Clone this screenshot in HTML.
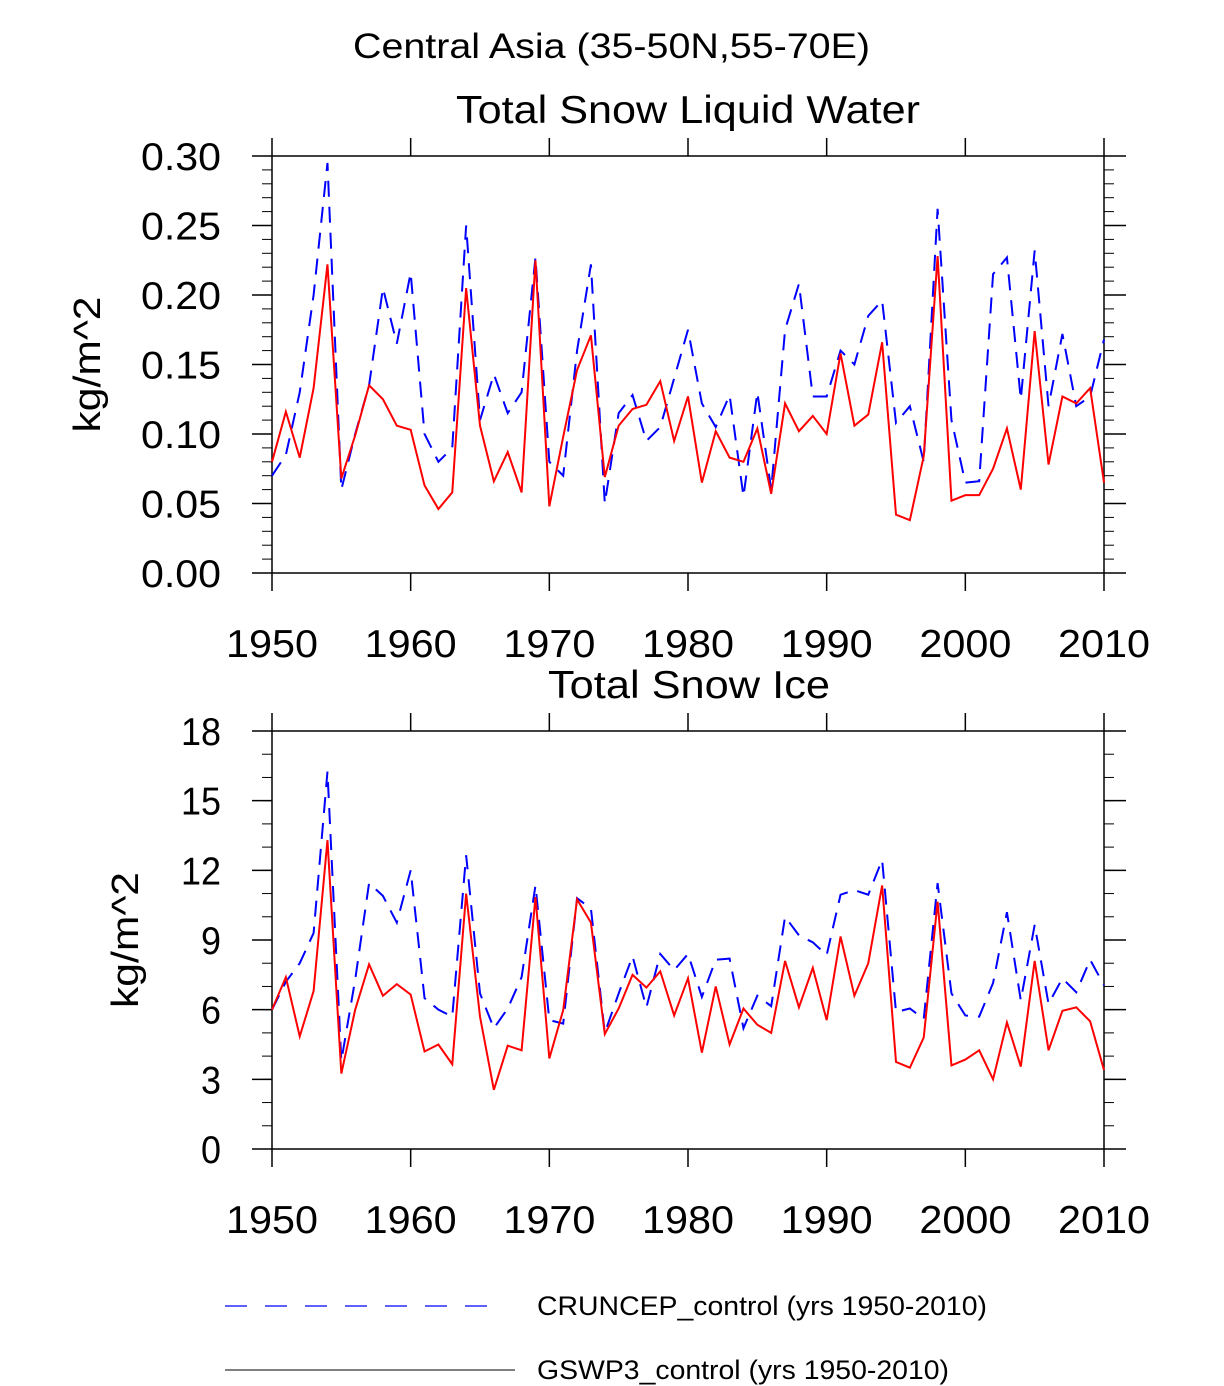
<!DOCTYPE html>
<html><head><meta charset="utf-8"><style>
html,body{margin:0;padding:0;background:#fff;}
svg{display:block;font-family:"Liberation Sans",Arial,sans-serif;}
</style></head><body>
<svg id="chart" width="1224" height="1386" viewBox="0 0 1224 1386">
<text x="353" y="58" font-size="35" textLength="517" lengthAdjust="spacingAndGlyphs">Central Asia (35-50N,55-70E)</text>
<g id="p1"></g>
<g id="p2"></g>
<g>
<line x1="225" y1="1306" x2="505" y2="1306" stroke="#0000ff" stroke-width="1.2" stroke-dasharray="22,18"/>
<text x="537" y="1315" font-size="27" textLength="450" lengthAdjust="spacingAndGlyphs">CRUNCEP_control (yrs 1950-2010)</text>
<line x1="225" y1="1370" x2="515" y2="1370" stroke="#000" stroke-width="1"/>
<text x="537" y="1379" font-size="27" textLength="412" lengthAdjust="spacingAndGlyphs">GSWP3_control (yrs 1950-2010)</text>
</g>
</svg>
<script>
const years = [];
for (let y = 1950; y <= 2010; y++) years.push(y);
const xTicks = [1950,1960,1970,1980,1990,2000,2010];
const liqTicks = [0,0.05,0.10,0.15,0.20,0.25,0.30];
const liqTickLabels = ["0.00","0.05","0.10","0.15","0.20","0.25","0.30"];
const iceTicks = [0,3,6,9,12,15,18];
const iceTickLabels = ["0","3","6","9","12","15","18"];
const liqGswp3 = [0.080,0.116,0.083,0.133,0.222,0.068,0.099,0.135,0.125,0.106,0.103,0.063,0.046,0.058,0.205,0.106,0.066,0.087,0.058,0.225,0.048,0.098,0.146,0.171,0.069,0.106,0.118,0.121,0.138,0.095,0.127,0.065,0.102,0.083,0.080,0.104,0.057,0.122,0.102,0.113,0.100,0.158,0.106,0.114,0.166,0.042,0.038,0.084,0.228,0.052,0.056,0.056,0.075,0.104,0.060,0.174,0.078,0.127,0.122,0.133,0.065];
const liqCruncep = [0.070,0.085,0.130,0.200,0.295,0.060,0.100,0.135,0.205,0.165,0.216,0.100,0.080,0.090,0.250,0.110,0.143,0.115,0.130,0.227,0.080,0.070,0.160,0.222,0.050,0.115,0.128,0.095,0.105,0.140,0.175,0.122,0.105,0.128,0.055,0.130,0.060,0.175,0.208,0.127,0.127,0.160,0.150,0.185,0.196,0.108,0.120,0.080,0.262,0.110,0.065,0.066,0.215,0.227,0.125,0.232,0.120,0.172,0.120,0.127,0.168];
const iceGswp3 = [6.0,7.4,4.85,6.8,13.3,3.25,6.0,7.95,6.6,7.1,6.65,4.2,4.5,3.65,11.0,5.7,2.55,4.45,4.25,10.85,3.9,5.98,10.75,9.75,4.95,6.05,7.5,6.95,7.65,5.75,7.35,4.15,7.0,4.5,6.05,5.35,5.0,8.1,6.1,7.8,5.55,9.15,6.6,8.0,11.35,3.75,3.5,4.8,10.65,3.6,3.85,4.25,3.0,5.45,3.55,8.1,4.25,5.95,6.1,5.5,3.4];
const iceCruncep = [6.0,7.2,8.0,9.3,16.25,3.8,7.3,11.45,10.9,9.75,12.0,6.5,6.0,5.7,12.65,6.7,5.2,6.05,7.4,11.35,5.55,5.4,10.8,10.35,5.0,6.7,8.3,6.1,8.4,7.7,8.4,6.55,8.15,8.2,5.2,6.6,6.15,10.0,9.2,8.9,8.35,10.95,11.15,10.95,12.45,5.9,6.05,5.6,11.45,6.7,5.75,5.7,7.15,10.2,6.4,9.65,6.25,7.35,6.75,8.15,7.05];

const NS = "http://www.w3.org/2000/svg";
function mk(parent, tag, attrs) {
  const e = document.createElementNS(NS, tag);
  for (const k in attrs) e.setAttribute(k, attrs[k]);
  parent.appendChild(e);
  return e;
}
function panel(g, top, bottom, ymax, minorStep, ticks, tickLabels, title, titleX, titleW, ylabelX, red, blue, prefix) {
  const L = 272, R = 1104;
  const xs = v => L + (v - 1950) / 60 * (R - L);
  const ys = v => bottom - v / ymax * (bottom - top);
  const t = mk(g, "text", {x: titleX, y: top - 33, "font-size": 39, textLength: titleW, lengthAdjust: "spacingAndGlyphs"});
  
  
  t.textContent = title;
  for (let v = 0; v <= ymax + 1e-9; v += minorStep) {
    const y = ys(v);
    const a = mk(g, "line", {x1: L - 10, x2: L, y1: y, y2: y, stroke: "#000", "stroke-width": 1});
    
    
    const b = mk(g, "line", {x1: R, x2: R + 10, y1: y, y2: y, stroke: "#000", "stroke-width": 1});
    
    
  }
  ticks.forEach((v, i) => {
    const y = ys(v);
    const a = mk(g, "line", {x1: L - 20, x2: L, y1: y, y2: y, stroke: "#000", "stroke-width": 1.5});
    
    
    const b = mk(g, "line", {x1: R, x2: R + 22, y1: y, y2: y, stroke: "#000", "stroke-width": 1.5});
    
    
    const w = tickLabels[i].length * 20;
    const lb = mk(g, "text", {x: 221 - w, y: y + 14, "font-size": 39, textLength: w, lengthAdjust: "spacingAndGlyphs"});
    
    
    lb.textContent = tickLabels[i];
  });
  xTicks.forEach(v => {
    const x = xs(v);
    const a = mk(g, "line", {x1: x, x2: x, y1: bottom, y2: bottom + 18, stroke: "#000", "stroke-width": 1.5});
    
    
    const b = mk(g, "line", {x1: x, x2: x, y1: top - 18, y2: top, stroke: "#000", "stroke-width": 1.5});
    
    
    const lb = mk(g, "text", {x: x - 46, y: bottom + 84, "font-size": 39, textLength: 92, lengthAdjust: "spacingAndGlyphs"});
    
    
    lb.textContent = v;
  });
  const box = mk(g, "rect", {x: L, y: top, width: R - L, height: bottom - top, fill: "none", stroke: "#000", "stroke-width": 1.5});
  
  
  const cy = (top + bottom) / 2;
  const yl = mk(g, "text", {x: ylabelX - 68, y: cy + 6, "font-size": 38, textLength: 136, lengthAdjust: "spacingAndGlyphs", transform: "rotate(-90 " + ylabelX + " " + cy + ")"});
  
  
  yl.textContent = "kg/m^2";
  const pb = mk(g, "polyline", {points: years.map((yr, i) => xs(yr) + "," + ys(blue[i])).join(" "), fill: "none", stroke: "#0000ff", "stroke-width": 2, "stroke-dasharray": "16,10"});
  
  
  const pr = mk(g, "polyline", {points: years.map((yr, i) => xs(yr) + "," + ys(red[i])).join(" "), fill: "none", stroke: "#ff0000", "stroke-width": 2});
  
  
}
panel(document.getElementById("p1"), 156, 573, 0.30, 0.01, liqTicks, liqTickLabels, "Total Snow Liquid Water", 456, 464, 94, liqGswp3, liqCruncep, "liquid-water");
panel(document.getElementById("p2"), 731, 1149, 18, 1, iceTicks, iceTickLabels, "Total Snow Ice", 548, 282, 132, iceGswp3, iceCruncep, "snow-ice");
</script>
</body></html>
